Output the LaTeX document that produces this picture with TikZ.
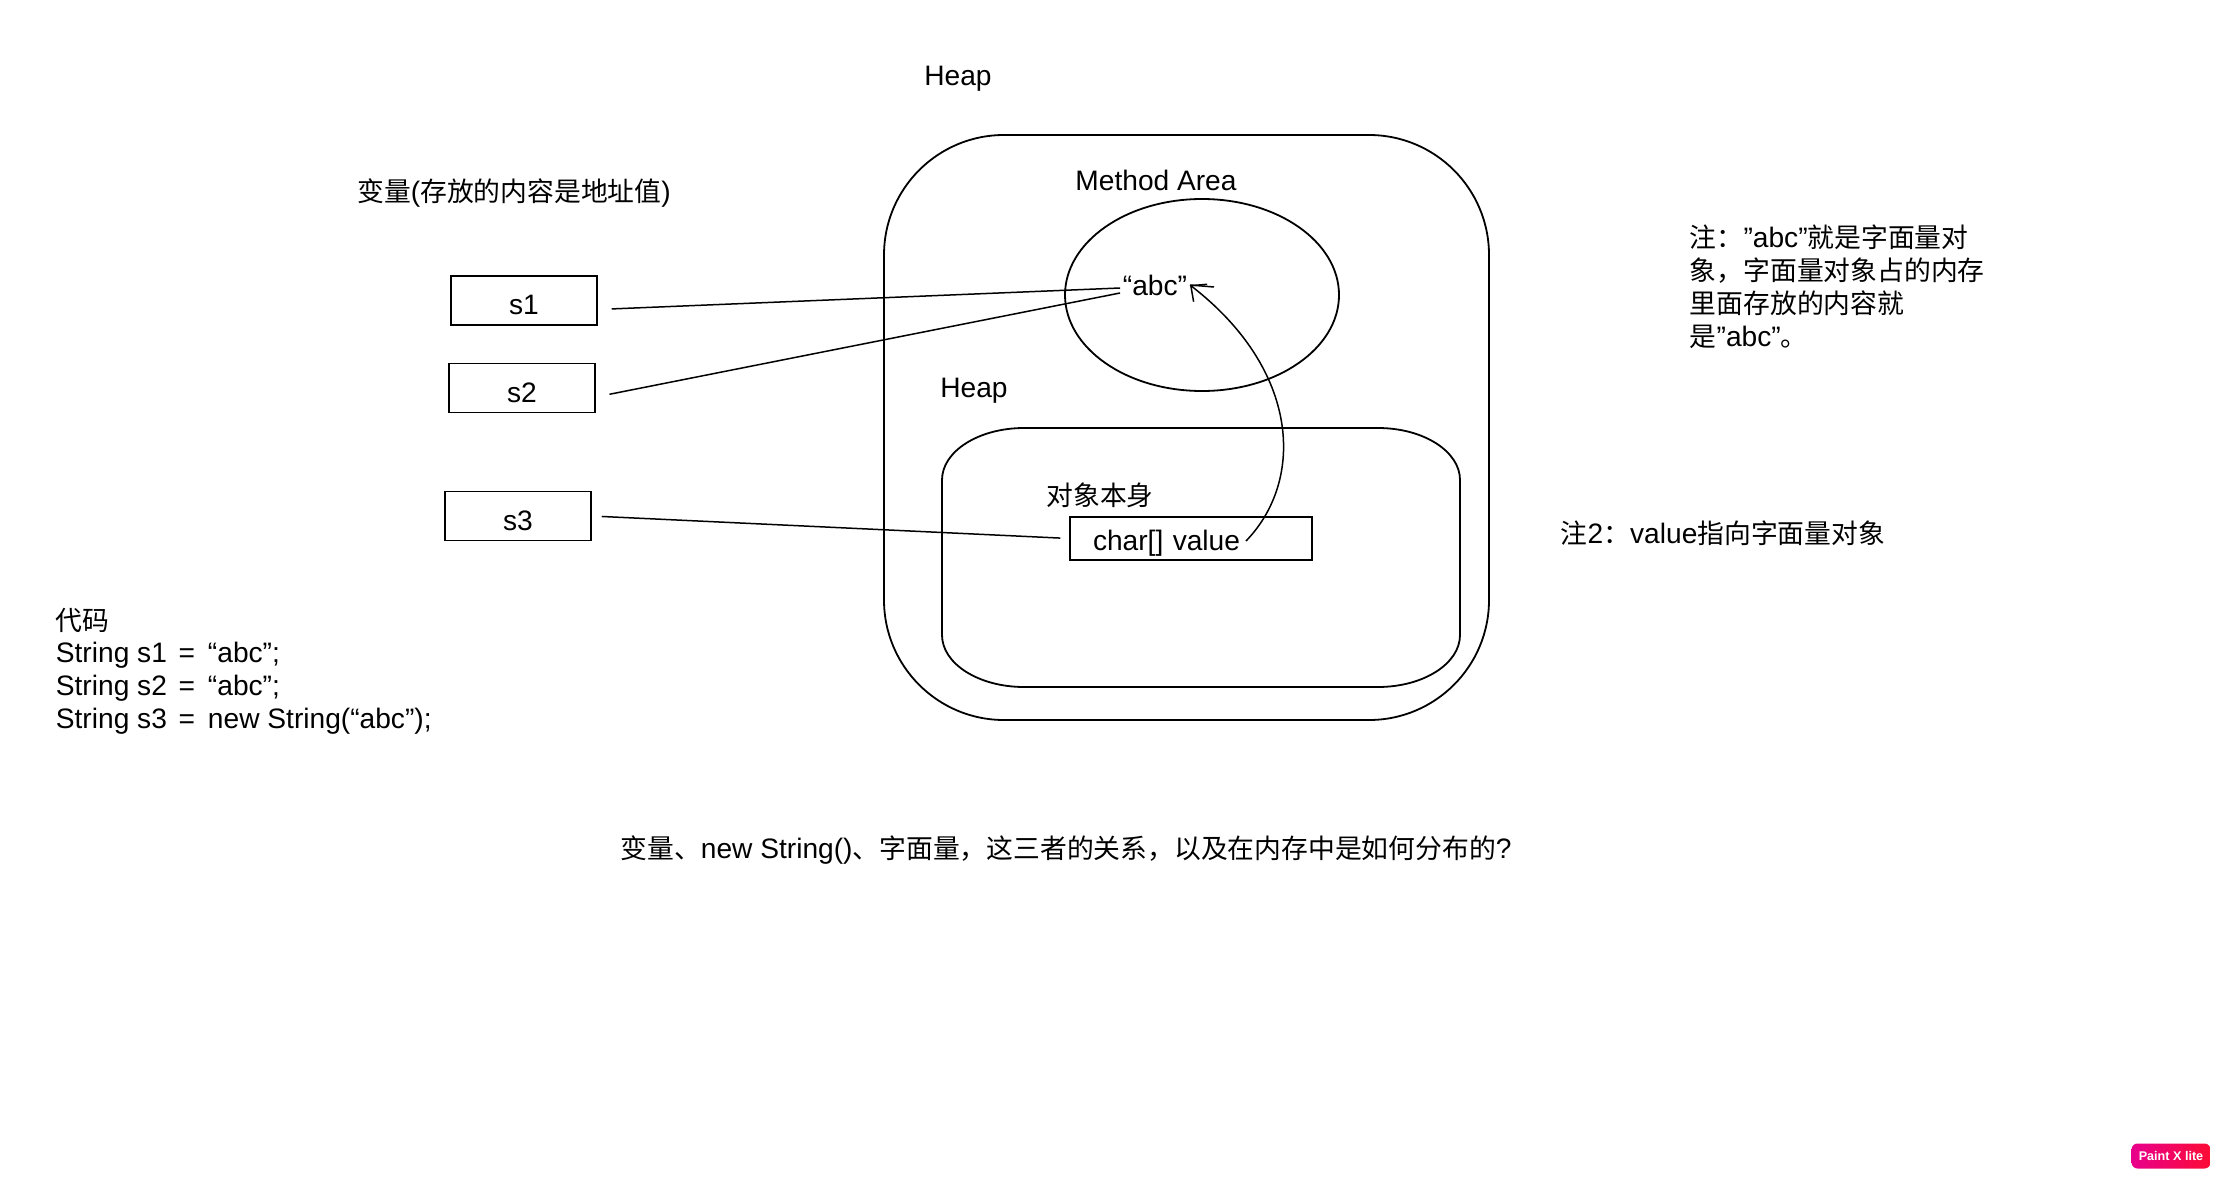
\documentclass[tikz,border=0pt]{standalone}
\usepackage{fontspec}
\setmainfont{Liberation Sans}[Scale=1.05]
\newfontfamily\cjk{Noto Sans CJK SC}
\newcommand\zh[1]{{\cjk #1}}
\newcommand\eqs{\ \hspace{2pt}=\ \hspace{2.5pt}}
\usetikzlibrary{arrows.meta}
\definecolor{pxpink}{RGB}{232,0,140}
\definecolor{pxred}{RGB}{252,12,52}
\tikzset{
  txt/.style={inner sep=0pt,font=\fontsize{13.4pt}{16.4pt}\selectfont},
  var/.style={txt,draw,line width=0.75pt,minimum width=73pt,minimum height=24.5pt,text height=14pt,text depth=0pt},
  lnk/.style={line width=0.75pt},
  arr/.style={line width=0.75pt,-{Straight Barb[length=6pt,width=11pt]}}
}

\begin{document}
\begin{tikzpicture}[x=0.5pt,y=-0.5pt,line width=0.9pt]
  \useasboundingbox (0,0) rectangle (2222,1177);
  \node[txt] (heaptop) at (958,79) {Heap};
  \draw[rounded corners=60pt] (884,135) rectangle (1489,720);
  \node[txt] (method) at (1156,180) {Method Area};
  \draw (1202,295) ellipse [x radius=68.5pt,y radius=48pt];
  \node[txt,inner sep=1pt] (abc) at (1155,285) {“abc”};
  \coordinate (tick) at (1214,287);
  \node[txt] (heapin) at (974,391) {Heap};
  \draw (1024,428) -- (1378,428) arc[start angle=90,end angle=0,x radius=41pt,y radius=26pt]
    -- (1460,635) arc[start angle=0,end angle=-90,x radius=41pt,y radius=26pt]
    -- (1024,687) arc[start angle=270,end angle=180,x radius=41pt,y radius=26pt]
    -- (942,480) arc[start angle=180,end angle=90,x radius=41pt,y radius=26pt] -- cycle;
  \node[txt] (obj) at (1100,495) {\zh{对象本身}};
  \node[var,minimum width=121pt,minimum height=21.5pt,text width=98pt,text height=13pt,text depth=1.5pt,align=left] (val) at (1191,538.5) {char[] value};
  \coordinate (valend) at (1246,541);

  \node[txt] (varlbl) at (514,193) {\zh{变量}(\zh{存放的内容是地址值})};
  \node[var] (s1) at (524,300.5) {s1};
  \node[var] (s2) at (522,388) {s2};
  \node[var] (s3) at (518,516) {s3};

  \draw[lnk,shorten <=7pt] ([yshift=-4.5pt]s1.east) -- ([yshift=-1.5pt]abc.west);
  \draw[lnk,shorten <=7pt] ([yshift=-4.5pt]s2.east) -- ([yshift=-4pt]abc.west);
  \draw[lnk,shorten <=5pt,shorten >=4.5pt] (s3.east) -- (val.west);
  \draw[arr] (valend) .. controls (1305,480) and (1300,370) .. (abc.east);
  \draw[lnk] (abc.east) -- (tick);

  \node[txt,anchor=north west,align=left] (note1) at (1689,224)
    {\zh{注：}”abc”\zh{就是字面量对}\\\zh{象，字面量对象占的内存}\\\zh{里面存放的内容就}\\\zh{是}”abc”\zh{。}};
  \node[txt,anchor=west] (note2) at (1560,533) {\zh{注}2\zh{：}value\zh{指向字面量对象}};
  \node[txt,anchor=north west,align=left] (code) at (55,607)
    {\zh{代码}\\String s1\eqs “abc”;\\String s2\eqs “abc”;\\String s3\eqs new String(“abc”);};
  \node[txt] (question) at (1066,850)
    {\zh{变量、}new String()\zh{、字面量，这三者的关系，以及在内存中是如何分布的}?};
  \node[rounded corners=3pt,left color=pxpink,right color=pxred,text=white,inner sep=0pt,
        minimum width=39.5pt,minimum height=12.5pt,font=\bfseries\fontsize{6pt}{7pt}\selectfont] (mark) at (2171,1156) {Paint X lite};
\end{tikzpicture}
\end{document}
